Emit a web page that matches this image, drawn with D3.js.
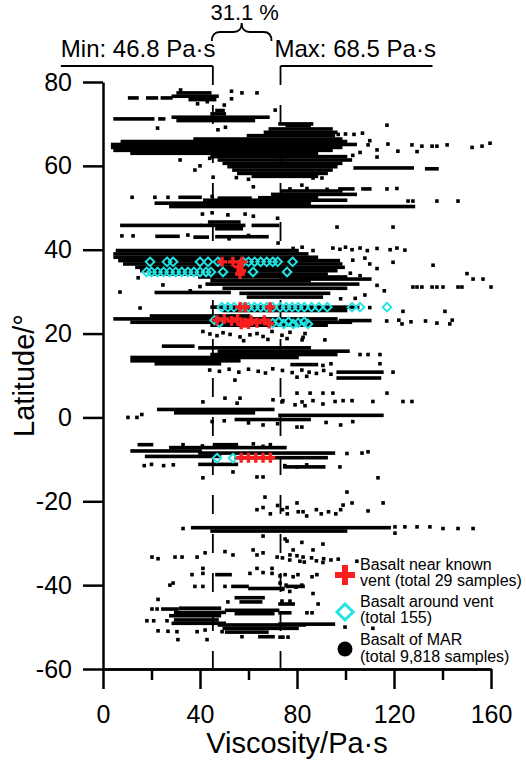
<!DOCTYPE html>
<html><head><meta charset="utf-8">
<script src="https://cdn.jsdelivr.net/npm/d3@7"></script>
<style>
body{margin:0;background:#fff}
svg{display:block}
text{font-family:"Liberation Sans",Arial,Helvetica,sans-serif;fill:#000}
</style></head>
<body><svg id="chart" width="526" height="764"></svg>
<script>
// ---------------- data ----------------
const xMajorTicks = [0, 40, 80, 120, 160];
const xMinorTicks = [20, 60, 100, 140];
const yTicks = [-60, -40, -20, 0, 20, 40, 60, 80];
const xTitle = "Viscosity/Pa·s";
const yTitle = "Latitude/°";
const minLineX = 45.3;   // dashed line positions (viscosity)
const maxLineX = 73.2;
const minLabel = "Min: 46.8 Pa·s";
const maxLabel = "Max: 68.5 Pa·s";
const rangeLabel = "31.1 %";
const legendLabels = [
  ["Basalt near known", "vent (total 29 samples)"],
  ["Basalt around vent", "(total 155)"],
  ["Basalt of MAR", "(total 9,818 samples)"]
];

// MAR basalt: dense horizontal runs of overlapping samples [latitude, viscosityFrom, viscosityTo]
const marRuns = [
  [76.2,11,14],[76.2,18.5,22],[76.2,24.5,28],[76.6,29,47],[77.4,31,44],[75.8,36,46],
  [71.2,5,20.5],[71.2,23.5,25],[71.6,29,68],[70.8,31,62],[72.4,45,50],[73.2,47,49.5],[70.0,73,86],[69.6,76,85],
  [68.8,69,94],[68.0,67,96],[67.2,60,95],[66.4,38,98],[65.8,8,100],[65.1,4,104],[64.4,4,98],[63.7,5,94],[63.0,12,88],
  [62.2,45,100],[61.4,48,102],[60.6,50,98],[59.8,52,96],[59.0,54,94],[58.2,56,92],[57.5,62,88],[59.5,104,127.5],[59.3,133.5,137.7],
  [52.5,31.8,40],[52.3,48,60.6],[52.4,64.7,88],[53.2,70,104],[54.0,74,98],[54.5,97.7,103],[54.5,107.2,110],
  [51.1,22,85],[50.3,28,128],[51.8,42,100],
  [45.8,7.8,40],[45.8,41,58],[46.6,44,56],[45.0,47,57],[45.8,62,72],
  [43.2,22.3,30.9],[43.0,38,43],[43.1,47,67.6],
  [39.8,6,80],[39.0,5,84],[38.2,5,88],[37.4,7,97],[36.6,9,98],[35.8,14,99],[35.0,16,96],[34.2,20,92],[33.5,40,100],
  [32.6,45,85],[31.8,43,105],[30.8,50,100],[29.8,22,52],[29.6,57,93],[28.7,60,90],[33.0,75,110],
  [26.3,45,105],[25.5,50,100],
  [24.2,20,60],[23.5,5,96],[22.7,12,102],[22.0,45,92],[23.1,98,110],
  [17.0,25,37],[16.6,40,85],
  [15.8,48,101],[15.0,45,96],[14.3,12,80],[13.5,12,56],[12.8,22,48],[12.6,78,88],
  [10.8,97,115],[9.4,97,114],
  [1.9,23,70],[1.1,30,62],[0.5,73,115],[-0.5,55,85],
  [-6.5,15,20],[-6.5,46,55],[-8.0,12,40],[-8.5,40,95],[-9.3,18,48],[-9.6,55,92],[-7.2,28,75],[-11.8,75,91],[-11.2,40,55],
  [-26.3,37,118],[-27.1,45,100],
  [-37.5,47,52.4],[-40.3,53.6,59.4],[-40.8,60.6,74.2],[-40.3,76,82.5],
  [-43,55,66],[-44,57,65],[-44.5,73,78.4],[-45.7,24.7,30.5],[-45.5,32,48],[-46.5,30,50],[-47.3,28,48],
  [-46.0,51,72],[-46.8,55,70],[-46.6,73,77],[-48.3,30,47],[-49.1,29,50],[-49.5,48,83],[-50.3,50,80],
  [-49.3,73,95],[-51.2,51,67.6],[-52.3,64.7,70.1]
];

// MAR basalt: isolated samples [viscosity, latitude]
const marPoints = [
  [32,78.1],[53,77.8],[53,76],[57.3,77.4],[63.5,77.4],[39,74.8],[43,75.3],[50,74.5],[71,73.3],[22.5,69],[47.4,68.6],[50.5,69.2],
  [109.3,65],[113,63.8],[117.5,65.2],[121.6,63.5],[127.4,65],[129.5,63.4],[131.5,64.7],[135.7,64.7],[137.7,64.7],[141.9,65],
  [152.2,64.4],[156.3,64.7],[159.6,65.4],[113,62.1],[97,67.5],[100,67.6],[103.5,67.5],[107,67.8],[117.1,69.7],[103,62.5],[106,63.2],[110,66],
  [31.8,61.4],[37.9,59],[40,60],[45.4,57.3],[55,57.2],[60,56.8],[86.6,57.1],[90.3,57.1],[44,61.8],
  [12,52.5],[21.4,52.5],[26.8,52.5],[45,52.7],[77.1,54.5],[84.1,54.6],[92.4,54.4],[117.1,54.5],[121.2,54.6],
  [125.8,51.6],[127.8,51.6],[137.7,51.6],[146.4,51.6],[62,55],[82,55.4],
  [41,48.5],[45,48.8],[51.5,48.3],[58.6,48.5],[62,48],[72,47.5],[96.5,45.4],[119.6,45.4],
  [7.8,43.3],[12.4,43.3],[72.2,41.6],[35,43.5],[52,42.6],[60,43.4],
  [78.4,40.3],[82.1,40.6],[86.6,39.8],[94.8,40.4],[97.7,40.1],[100,40.6],[102.7,40],[106,40.4],[109,39.8],[113,40.3],
  [118.4,40],[121.2,40.4],[124.5,39.9],[103,37.5],[108,38],[110,36.6],[113,35.5],[119.6,37],[136.1,36.3],[102,34.4],[106,33.8],
  [150.1,34.3],[152.6,33],[156.7,33],[127.8,31.1],[129.5,31.1],[131.5,31.1],[135.7,31.1],[137.7,31.1],[140.2,31.1],
  [146.4,31.1],[148,31.1],[160,31.1],[113,31.5],[116,30.2],[108,29.2],[104,28.4],[7,29.9],[14.5,33.3],[15.3,26.1],
  [24.7,31.6],[36,30.2],[40,31.2],[98,28.3],
  [123.7,25.3],[141,25.3],[110,26.2],
  [117,23],[122,23.2],[127,22.8],[133,23],[144,23.2],[123.3,22.3],[137.7,22.5],[143,22.3],
  [41.2,20.5],[44.1,19.9],[47,19.5],[49.5,20.2],[52.4,19.8],[56.5,19.2],[60.6,19.7],[63.5,20],[66,19.3],[69.7,20.5],
  [73.8,19.6],[77.1,20.3],[82.5,19.1],[75.9,18.8],[82.1,18.5],[83.3,20],[91.5,18.5],[58,18.3],[68,18.6],
  [90.7,12.4],[94,12.8],[114.2,12.8],[106,15],[109.3,15],[114.2,15],
  [44,11.3],[48,11],[52,11.5],[56,10.8],[60,11.5],[64,11],[67,10.6],[70,11.6],[74,11.2],[78,10.7],[82,11.3],[85,10.8],
  [88,10.5],[91,11.2],[94,10.3],[54.4,8.9],[119.6,10.8],[80,9.6],[84,9.8],
  [41.2,3.7],[50.3,4.6],[55.3,3.4],[56.5,4.6],[70.1,4.2],[73.8,3.7],[80,5.8],[82.1,3.7],[85.4,5.8],[90.7,5.8],[94.8,5.8],
  [117.1,5.8],[74.2,4.0],[86.6,4.0],[95.7,3.8],[99,4.0],[102.7,4.0],[111.3,3.8],[123.7,3.8],[127.4,3.8],[79.2,3],[83.3,2.8],[90.7,3.2],
  [10.3,0],[14,0],[16,0.7],[80,-2.3],[82,-2.3],[45,-1],[50,-0.8],[60,-1.3],[66,-1.8],[72,-1.5],[92,-1.2],[98,-1.8],[103,-1],
  [41,-6.8],[33,-6.5],[62,-6.3],[66,-6.9],[69,-6.5],[100.6,-8.6],[106.8,-8.5],[109.3,-8.2],[97.7,-11.8],[17,-11.5],[20,-11.2],
  [25,-11.5],[29,-11.3],[75,-11.5],[80,-11.8],[84,-11.3],[53.6,-13],[41.2,-14.4],[63.5,-14.2],[66,-14.2],[113.4,-14.4],
  [66.8,-19],[100.6,-17.8],[80,-20.4],[99,-20.9],[102.7,-20.4],[115.5,-20.4],[63.5,-22],[66,-21.5],[75.9,-21.5],[82.5,-22.5],
  [74,-22],[76,-23],[80.5,-22.5],[84,-23.5],[88,-22],[90,-23],[93,-22.5],[96,-23],[98,-22],[109.3,-22.3],[69,-23],[72,-21],
  [120.4,-26.1],[124.5,-26.1],[129.5,-26.1],[134.8,-26.1],[140.2,-26.5],[146.4,-26.5],[152.6,-26.5],[120.4,-27.6],[33,-26.5],
  [66,-28.3],[75.9,-29.5],[75.1,-29],[78.4,-31.6],[86.6,-31.6],[90.7,-30.2],[82,-29.8],
  [20.2,-33.3],[22.7,-33.7],[29.7,-33.3],[32.6,-33.3],[38.8,-33.3],[42.1,-32.3],[50.3,-32],[53.6,-32.8],[61.9,-31.6],
  [63.5,-32.8],[66,-32.3],[71.8,-33.3],[77.1,-32.8],[82.5,-33.3],[74,-33.5],[77,-34],[80,-33],[83,-34.5],[86,-33.5],
  [88,-34.2],[91,-33.7],[94,-34],[97,-33.8],[81.2,-34.3],[90.7,-34.6],[104.7,-34.3],[41.2,-36],[63.5,-36],[69.7,-36],
  [36.7,-37.5],[41.2,-37.2],[60.6,-37.2],[66,-37],[69.7,-37.2],[73,-37.8],[80.4,-37.5],[75.1,-37.5],[78.4,-38],[86.2,-38],
  [88.2,-37.5],[27.6,-40],[28.9,-39.5],[37.9,-40.3],[41.2,-40.3],[50.3,-40.3],[73,-39.5],[74,-41],[75.5,-40],[77,-41.5],
  [79.6,-40.5],[82,-40],[86.6,-42],
  [22.7,-43.4],[51.5,-44],[73.8,-43.8],[77.1,-43.8],[88.7,-44.5],[20.2,-45.7],[22.3,-45.7],[84.1,-46.6],[86.2,-46.6],
  [18.1,-48.5],[20.9,-48.5],[26.4,-48.5],[99.8,-50],[111.3,-50.3],[22.7,-50.9],[26.8,-51],[30.5,-51.1],[38.8,-51.1],
  [42.1,-50.7],[49.1,-51.1],[30.9,-53],[42.9,-53],[57.3,-52.3],[73,-52.4],[76.3,-52.4],[74.2,-52.4]
];

// Basalt around vent (cyan diamonds) [viscosity, latitude]
const aroundVent = [
  [19.4,37.1],[26.4,37.1],[28.9,37.1],[40,37.1],[43.3,37.1],[47.4,37.1],[57.7,37.1],[60,37.1],[62.5,37.1],[65,37.1],
  [67.5,37.1],[70,37.1],[72,37.1],[78.2,37.1],
  [18,34.7],[20,34.7],[22.5,34.7],[25,34.7],[27.5,34.7],[30,34.7],[32.5,34.7],[35,34.7],[37.5,34.7],[40,34.7],
  [42.5,34.7],[44.5,34.7],[49.5,34.7],[61.9,34.7],[75.9,34.7],
  [49,26.3],[51.5,26.3],[54,26.3],[57,26.3],[60,26.3],[62.5,26.3],[65,26.3],[67.5,26.3],[70,26.3],[73,26.3],
  [75.5,26.3],[78,26.3],[80.5,26.3],[83,26.3],[86,26.3],[89,26.3],[92.5,26.3],[102.7,26.3],[106,26.3],[117.1,26.3],
  [46,23.2],[48,22.6],[70,22.5],[72.5,22.8],[74.5,22.3],[76.5,22.8],[78.5,22.3],[80.5,22.6],[83,22.8],[84.5,22.3],
  [47,-9.7],[53.6,-9.7]
];

// Basalt near known vent (red crosses) [viscosity, latitude]
const nearVent = [
  [49.1,37.1],[53.6,37.1],[57.3,37.1],[56,35.9],[57,35],[56.5,34.2],
  [56.5,26.3],[58.6,26.3],[68.9,26.3],
  [47,23.2],[50,23.5],[53,23],[55.5,23.5],[58.5,22.6],[61,23.2],[63.5,22.6],[66.5,23.2],[57,22.2],[60,22.3],[68.5,22.4],
  [57,-9.6],[60,-9.6],[63,-9.6],[66,-9.6],[69,-9.6]
];

// ---------------- drawing ----------------
const svg = d3.select("#chart");
const x = d3.scaleLinear().domain([0,160]).range([103,491]);
const y = d3.scaleLinear().domain([-60,80]).range([669,82]);
const RED = "#fa1e1e", CYAN = "#22e3e3";
const sq = 3.6;

// dashed min/max lines + bracket
const topY = y(80) - 16;
[minLineX, maxLineX].forEach(v => {
  svg.append("line").attr("x1", x(v)).attr("x2", x(v)).attr("y1", topY).attr("y2", y(-60))
    .attr("stroke", "#000").attr("stroke-width", 1.8).attr("stroke-dasharray", "19,20");
});
svg.append("line").attr("x1", x(minLineX) - 152).attr("x2", x(minLineX)).attr("y1", topY).attr("y2", topY)
  .attr("stroke", "#000").attr("stroke-width", 1.8);
svg.append("line").attr("x1", x(maxLineX)).attr("x2", x(maxLineX) + 152).attr("y1", topY).attr("y2", topY)
  .attr("stroke", "#000").attr("stroke-width", 1.8);

svg.append("text").attr("x", x(minLineX) - 152).attr("y", 57).attr("font-size", 24).text(minLabel);
svg.append("text").attr("x", x(maxLineX) - 6).attr("y", 57).attr("font-size", 24).text(maxLabel);

// curly brace
const L = x(minLineX) - 1, R = x(maxLineX) - 9, M = (L + R) / 2;
svg.append("path")
  .attr("d", `M${L},41 Q${L},32 ${L+8},32 L${M-8},32 Q${M},32 ${M},23 Q${M},32 ${M+8},32 L${R-8},32 Q${R},32 ${R},41`)
  .attr("fill", "none").attr("stroke", "#000").attr("stroke-width", 1.8);
svg.append("text").attr("x", M + 3).attr("y", 20).attr("font-size", 22).attr("text-anchor", "middle").text(rangeLabel);

// MAR runs & points
const g = svg.append("g");
g.selectAll("rect.run").data(marRuns).join("rect").attr("class", "run")
  .attr("x", d => x(d[1]) - sq/2).attr("y", d => y(d[0]) - sq/2)
  .attr("width", d => x(d[2]) - x(d[1]) + sq).attr("height", sq).attr("fill", "#000");
g.selectAll("rect.pt").data(marPoints).join("rect").attr("class", "pt")
  .attr("x", d => x(d[0]) - sq/2).attr("y", d => y(d[1]) - sq/2)
  .attr("width", sq).attr("height", sq).attr("fill", "#000");

// markers
const diamond = r => `M0,${-r}L${r},0L0,${r}L${-r},0Z`;
const plus = (s, t) => `M${-s/2},${-t/2}H${s/2}V${t/2}H${-s/2}Z M${-t/2},${-s/2}H${t/2}V${s/2}H${-t/2}Z`;

g.selectAll("path.cy").data(aroundVent).join("path").attr("class", "cy")
  .attr("transform", d => `translate(${x(d[0])},${y(d[1])})`)
  .attr("d", diamond(4.3)).attr("fill", "none").attr("stroke", CYAN).attr("stroke-width", 2);
g.selectAll("path.rd").data(nearVent).join("path").attr("class", "rd")
  .attr("transform", d => `translate(${x(d[0])},${y(d[1])})`)
  .attr("d", plus(10, 3.4)).attr("fill", RED);

// axes
const fmt = d => String(d);
const axStyle = sel => {
  sel.selectAll("path.domain").attr("stroke", "#000").attr("stroke-width", 2.5);
  sel.selectAll(".tick line").attr("stroke", "#000").attr("stroke-width", 2.5);
  sel.selectAll(".tick text").attr("font-size", 25).attr("font-family", '"Liberation Sans",Arial,sans-serif').attr("fill", "#000");
};
svg.append("g").attr("transform", `translate(0,${y(-60)})`)
  .call(d3.axisBottom(x).tickValues(xMinorTicks).tickSize(11).tickSizeOuter(0).tickFormat(""))
  .call(axStyle);
svg.append("g").attr("transform", `translate(0,${y(-60)})`)
  .call(d3.axisBottom(x).tickValues(xMajorTicks).tickSize(20).tickPadding(16).tickSizeOuter(0).tickFormat(fmt))
  .call(axStyle);
svg.append("g").attr("transform", `translate(${x(0)},0)`)
  .call(d3.axisLeft(y).tickValues(yTicks).tickSize(20).tickPadding(11).tickSizeOuter(0).tickFormat(fmt))
  .call(axStyle);

// axis titles
svg.append("text").attr("x", (x(0) + x(160)) / 2).attr("y", 753).attr("text-anchor", "middle")
  .attr("font-size", 29).text(xTitle);
svg.append("text").attr("transform", `translate(34,${(y(80) + y(-60)) / 2}) rotate(-90)`)
  .attr("text-anchor", "middle").attr("font-size", 29).text(yTitle);

// legend
const lg = svg.append("g");
const lx = 345, tx = 360;
lg.append("path").attr("transform", `translate(${lx},575)`).attr("d", plus(20, 6)).attr("fill", RED);
lg.append("path").attr("transform", `translate(${lx},612)`).attr("d", diamond(8)).attr("fill", "#fff")
  .attr("stroke", CYAN).attr("stroke-width", 3);
lg.append("circle").attr("cx", lx).attr("cy", 649).attr("r", 7.5).attr("fill", "#000");
const baselines = [[570, 586], [607, 623], [645, 662]];
legendLabels.forEach((lines, i) => {
  lines.forEach((t, j) => {
    lg.append("text").attr("x", tx).attr("y", baselines[i][j]).attr("font-size", 16).text(t);
  });
});
</script></body></html>
